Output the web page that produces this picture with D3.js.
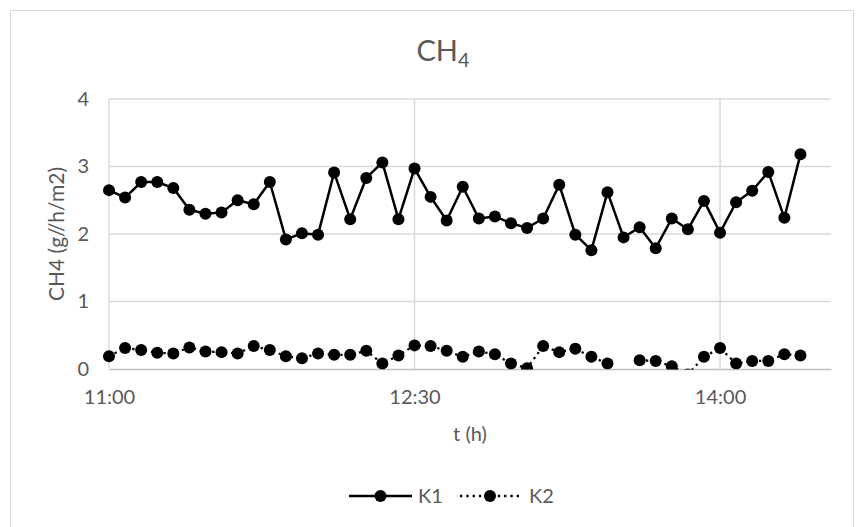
<!DOCTYPE html>
<html>
<head>
<meta charset="utf-8">
<script src="https://cdn.jsdelivr.net/npm/d3@7"></script>
<style>
  html, body { margin: 0; padding: 0; background: #fff; }
  svg { display: block; }
  text { font-family: Lato, "Open Sans", sans-serif; fill: #595959; }
</style>
</head>
<body>
<svg id="chart" width="865" height="527"></svg>
<script>
// ---- data ----
const k1Values = [2.65, 2.54, 2.77, 2.77, 2.68, 2.36, 2.30, 2.32, 2.50, 2.44,
                  2.77, 1.92, 2.01, 1.99, 2.91, 2.22, 2.83, 3.06, 2.22, 2.97,
                  2.55, 2.20, 2.70, 2.23, 2.26, 2.16, 2.09, 2.23, 2.73, 1.99,
                  1.76, 2.62, 1.95, 2.10, 1.79, 2.23, 2.07, 2.49, 2.02, 2.47,
                  2.64, 2.92, 2.24, 3.18];
const k2Values = [0.19, 0.31, 0.28, 0.24, 0.23, 0.32, 0.26, 0.25, 0.23, 0.34,
                  0.28, 0.19, 0.16, 0.23, 0.21, 0.21, 0.27, 0.08, 0.20, 0.35,
                  0.34, 0.27, 0.18, 0.26, 0.22, 0.08, 0.01, 0.34, 0.25, 0.30,
                  0.18, 0.08, null, 0.13, 0.12, 0.04, -0.08, 0.18, 0.31, 0.08,
                  0.12, 0.12, 0.22, 0.20];
const xTickPositions = [0, 19, 38];          // sample positions of the labelled times
const xTickLabels = ["11:00", "12:30", "14:00"];
const yTicks = [0, 1, 2, 3, 4];
const seriesNames = ["K1", "K2"];

// ---- layout ----
const svg = d3.select("#chart");
const plot = { left: 109, right: 831, top: 99, bottom: 369 };
const x = d3.scaleLinear().domain([0, 44.9]).range([plot.left, plot.right]);
const y = d3.scaleLinear().domain([0, 4]).range([plot.bottom, plot.top]);
const FONT = "Lato, 'Open Sans', sans-serif";

// chart border
svg.append("rect").attr("x", 10.5).attr("y", 10.5).attr("width", 843).attr("height", 540)
  .attr("fill", "none").attr("stroke", "#d9d9d9").attr("stroke-width", 1);

// horizontal gridlines
svg.append("g").selectAll("line").data(yTicks.filter(d => d > 0)).join("line")
  .attr("x1", plot.left).attr("x2", plot.right)
  .attr("y1", d => y(d)).attr("y2", d => y(d))
  .attr("stroke", "#d9d9d9").attr("stroke-width", 1.5);

// vertical gridlines
svg.append("g").selectAll("line").data(xTickPositions.filter(d => d > 0)).join("line")
  .attr("x1", d => x(d)).attr("x2", d => x(d))
  .attr("y1", plot.top).attr("y2", plot.bottom)
  .attr("stroke", "#d9d9d9").attr("stroke-width", 1.5);

// y axis line (light)
svg.append("line").attr("x1", plot.left).attr("x2", plot.left)
  .attr("y1", plot.top).attr("y2", plot.bottom)
  .attr("stroke", "#d9d9d9").attr("stroke-width", 1.5);

// y axis via d3.axisLeft
const yAxis = d3.axisLeft(y).tickValues(yTicks).tickSize(0).tickPadding(20).tickFormat(d3.format("d"));
const gy = svg.append("g").attr("transform", `translate(${plot.left},0)`).call(yAxis);
gy.select(".domain").remove();
gy.selectAll("text").attr("font-size", 20).attr("fill", "#595959").style("font-family", FONT);

// x axis via d3.axisBottom
const xAxis = d3.axisBottom(x).tickValues(xTickPositions).tickSize(0).tickPadding(21)
  .tickFormat((d, i) => xTickLabels[i]);
const gx = svg.append("g").attr("transform", `translate(0,${plot.bottom})`).call(xAxis);
gx.select(".domain").attr("stroke", "#bfbfbf").attr("stroke-width", 1.5);
gx.selectAll("text").attr("font-size", 20).attr("fill", "#595959").style("font-family", FONT);

// clip for plot area
svg.append("clipPath").attr("id", "clip").append("rect")
  .attr("x", plot.left - 10).attr("y", plot.top - 10)
  .attr("width", plot.right - plot.left + 20).attr("height", plot.bottom - plot.top + 10.5);

const g = svg.append("g").attr("clip-path", "url(#clip)");
const line = d3.line().defined(d => d != null).x((d, i) => x(i)).y(d => y(d));

// K2 (dotted)
g.append("path").datum(k2Values).attr("d", line)
  .attr("fill", "none").attr("stroke", "#000").attr("stroke-width", 2.3)
  .attr("stroke-dasharray", "2.3,4");
g.append("g").selectAll("circle")
  .data(k2Values.map((v, i) => ({ v, i })).filter(d => d.v != null)).join("circle")
  .attr("cx", d => x(d.i)).attr("cy", d => y(d.v)).attr("r", 6).attr("fill", "#000");

// K1 (solid)
g.append("path").datum(k1Values).attr("d", line)
  .attr("fill", "none").attr("stroke", "#000").attr("stroke-width", 2.5)
  .attr("stroke-linejoin", "round");
g.append("g").selectAll("circle")
  .data(k1Values.map((v, i) => ({ v, i }))).join("circle")
  .attr("cx", d => x(d.i)).attr("cy", d => y(d.v)).attr("r", 6).attr("fill", "#000");

// title CH4
const title = svg.append("text").attr("x", 443).attr("y", 61).attr("text-anchor", "middle")
  .attr("font-size", 29).attr("fill", "#595959");
title.append("tspan").text("CH");
title.append("tspan").attr("font-size", 20).attr("dy", 6).text("4");

// axis titles
svg.append("text").attr("x", (plot.left + plot.right) / 2).attr("y", 441)
  .attr("text-anchor", "middle").attr("font-size", 20).text("t (h)");
svg.append("text").attr("transform", `translate(64,${(plot.top + plot.bottom) / 2}) rotate(-90)`)
  .attr("text-anchor", "middle").attr("font-size", 21).text("CH4 (g//h/m2)");

// legend
const legend = svg.append("g");
const items = [
  { name: seriesNames[0], x1: 349, x2: 412, dash: null, tx: 418 },
  { name: seriesNames[1], x1: 460, x2: 520, dash: "2.3,4", tx: 529 }
];
items.forEach(it => {
  legend.append("line").attr("x1", it.x1).attr("x2", it.x2).attr("y1", 496).attr("y2", 496)
    .attr("stroke", "#000").attr("stroke-width", 2.5)
    .attr("stroke-dasharray", it.dash);
  legend.append("circle").attr("cx", (it.x1 + it.x2) / 2).attr("cy", 496).attr("r", 6).attr("fill", "#000");
  legend.append("text").attr("x", it.tx).attr("y", 503).attr("font-size", 20).text(it.name);
});
</script>
</body>
</html>
